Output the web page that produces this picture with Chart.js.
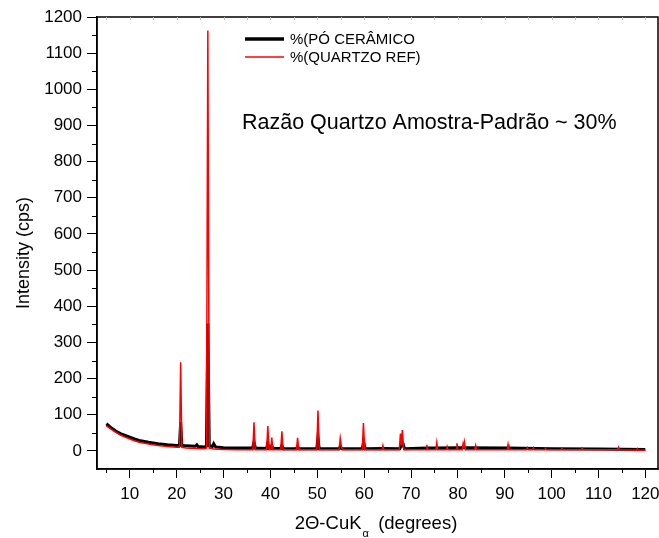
<!DOCTYPE html>
<html>
<head>
<meta charset="utf-8">
<script src="https://cdn.jsdelivr.net/npm/chart.js@4/dist/chart.umd.min.js"></script>
<style>
  html, body { margin: 0; padding: 0; background: #fff; }
</style>
</head>
<body>
<canvas id="xrdChart" width="659" height="538"></canvas>
<script>
const ceramicX = [5, 5.5, 6, 7, 8, 9, 10, 11, 12, 14, 16, 18, 20,
  20.6, 20.85, 21.1, 22, 24, 24.3, 24.6, 26, 26.35, 26.65, 26.95, 27.6, 27.9, 28.3,
  30, 33, 36.2, 36.5, 36.8, 39.2, 39.45, 39.7, 40.1, 40.3, 40.5,
  42.2, 42.45, 42.7, 45.55, 45.8, 46.05, 49.9, 50.15, 50.4,
  54.6, 54.9, 55.2, 59.6, 59.9, 60.2, 64, 67.6, 67.8, 68.1, 68.3, 68.6,
  73.5, 75.6, 79.9, 81.4, 90.7, 100, 110, 120];
const ceramicY = [75, 70, 64, 55, 48, 43, 38, 33, 29, 24, 20, 17, 15,
  16, 80, 16, 14, 13, 17, 12, 11, 14, 352, 14, 12, 20, 11,
  9, 8, 8, 25, 8, 7, 22, 7, 7, 15, 7,
  7, 15, 6, 6, 12, 6, 6, 38, 6,
  6, 12, 6, 6, 25, 6, 7, 6, 12, 22, 20, 6,
  8, 8, 9, 9, 8, 6, 5, 4];

const quartzX = [5, 6, 7, 8, 9, 10, 11, 12, 14, 16, 18, 20,
  20.6, 20.85, 21.1, 22, 24, 26, 26.35, 26.65, 26.95, 28, 30, 33,
  36.25, 36.5, 36.75, 39.2, 39.45, 39.7, 40.1, 40.3, 40.5,
  42.2, 42.45, 42.7, 45.55, 45.8, 46.05, 49.9, 50.15, 50.4,
  54.65, 54.9, 55.15, 55.4, 59.6, 59.85, 60.1, 63.8, 64.0, 64.2,
  67.5, 67.75, 67.95, 68.15, 68.4, 68.6,
  73.2, 73.4, 73.6, 75.3, 75.5, 75.7, 77.5, 77.7, 77.9, 79.6, 79.8, 80,
  80.9, 81.1, 81.25, 81.4, 81.6, 83.6, 83.8, 84, 90.5, 90.7, 90.9,
  94.6, 94.8, 95, 95.9, 96.1, 96.3, 98.5, 98.7, 98.9, 102, 102.2, 102.4,
  106.3, 106.5, 106.7, 114.1, 114.3, 114.5, 118.1, 118.3, 118.5, 120];
const quartzY = [69, 60, 51, 44, 38, 33, 28, 24, 19, 15, 12, 10,
  10, 245, 10, 8, 7, 6, 8, 1163, 8, 5, 4, 3,
  3, 79, 3, 3, 69, 3, 3, 37, 3,
  3, 54, 3, 3, 36, 3, 3, 112, 3,
  3, 35, 12, 3, 3, 77, 3, 3, 15, 3,
  3, 48, 15, 58, 10, 3,
  3, 17, 3, 3, 23, 3, 3, 12, 3, 3, 21, 3,
  3, 19, 8, 23, 3, 3, 15, 3, 3, 18, 3,
  3, 9, 3, 3, 9, 3, 3, 7, 3, 3, 7, 3,
  3, 8, 3, 3, 10, 3, 2, 6, 2, 2];

const xTicks = [10, 20, 30, 40, 50, 60, 70, 80, 90, 100, 110, 120];
const xMinorTicks = [5, 15, 25, 35, 45, 55, 65, 75, 85, 95, 105, 115];
const yTicks = [0, 100, 200, 300, 400, 500, 600, 700, 800, 900, 1000, 1100, 1200];
const yMinorTicks = [50, 150, 250, 350, 450, 550, 650, 750, 850, 950, 1050, 1150];

const seriesLabels = ['%(PÓ CERÂMICO', '%(QUARTZO REF)'];
const noteText = 'Razão Quartzo Amostra-Padrão ~ 30%';

const FONT = '"Liberation Sans", Arial, sans-serif';

function toPoints(xs, ys) {
  return xs.map((x, i) => ({ x: x, y: ys[i] }));
}

// moldura, ticks menores, legenda, anotação e títulos dos eixos
const decorPlugin = {
  id: 'decor',
  afterDraw(chart) {
    const ctx = chart.ctx;
    const a = chart.chartArea;
    const xs = chart.scales.x, ys = chart.scales.y;
    ctx.save();
    ctx.strokeStyle = '#000';
    ctx.lineWidth = 1.5;
    ctx.strokeRect(a.left, a.top, a.right - a.left, a.bottom - a.top);

    ctx.lineWidth = 1;
    ctx.beginPath();
    xMinorTicks.forEach(v => {
      const px = Math.round(xs.getPixelForValue(v)) + 0.5;
      ctx.moveTo(px, a.bottom); ctx.lineTo(px, a.bottom + 4);
    });
    yMinorTicks.forEach(v => {
      const py = Math.round(ys.getPixelForValue(v)) + 0.5;
      ctx.moveTo(a.left, py); ctx.lineTo(a.left - 5, py);
    });
    ctx.stroke();

    // ticks internos do eixo superior
    ctx.strokeStyle = '#bbb';
    ctx.beginPath();
    xTicks.concat(xMinorTicks).forEach(v => {
      const px = Math.round(xs.getPixelForValue(v)) + 0.5;
      ctx.moveTo(px, a.top); ctx.lineTo(px, a.top + 3);
    });
    ctx.stroke();

    // legenda
    const legendY = [39, 57];
    chart.data.datasets.forEach(d => {
      const li = d.label === seriesLabels[0] ? 0 : 1;
      ctx.strokeStyle = d.borderColor;
      ctx.lineWidth = li === 0 ? 3.5 : 1.5;
      ctx.beginPath();
      ctx.moveTo(245, legendY[li]); ctx.lineTo(284, legendY[li]);
      ctx.stroke();
      ctx.fillStyle = '#000';
      ctx.font = '15px ' + FONT;
      ctx.textBaseline = 'middle';
      ctx.textAlign = 'left';
      ctx.fillText(d.label, 290, legendY[li] + 1);
    });

    // anotação
    ctx.textBaseline = 'alphabetic';
    ctx.font = '21.5px ' + FONT;
    ctx.fillText(noteText, 242, 129);

    // título y
    ctx.save();
    ctx.translate(24, 253);
    ctx.rotate(-Math.PI / 2);
    ctx.textAlign = 'center';
    ctx.textBaseline = 'middle';
    ctx.font = '18px ' + FONT;
    ctx.fillText('Intensity (cps)', 0, 0);
    ctx.restore();

    // título x com subscrito
    ctx.textAlign = 'left';
    ctx.textBaseline = 'alphabetic';
    ctx.font = '18.5px ' + FONT;
    const part1 = '2Θ-CuK';
    const part2 = '  (degrees)';
    const w1 = ctx.measureText(part1).width;
    ctx.font = '11px ' + FONT;
    const wa = ctx.measureText('α').width;
    ctx.font = '18.5px ' + FONT;
    const w2 = ctx.measureText(part2).width;
    const start = 376 - (w1 + wa + w2) / 2;
    ctx.fillText(part1, start, 529);
    ctx.font = '11px ' + FONT;
    ctx.fillText('α', start + w1 + 1, 537);
    ctx.font = '18.5px ' + FONT;
    ctx.fillText(part2, start + w1 + wa, 529);
    ctx.restore();
  }
};

new Chart(document.getElementById('xrdChart').getContext('2d'), {
  type: 'line',
  data: {
    datasets: [{
      label: seriesLabels[0],
      data: toPoints(ceramicX, ceramicY),
      borderColor: '#000',
      borderWidth: 3,
      pointRadius: 0,
      tension: 0,
      order: 1
    }, {
      label: seriesLabels[1],
      data: toPoints(quartzX, quartzY),
      borderColor: '#ff0000',
      borderWidth: 1.5,
      pointRadius: 0,
      tension: 0,
      order: 0
    }]
  },
  options: {
    responsive: false,
    animation: false,
    devicePixelRatio: 1,
    layout: { padding: { top: 17, right: 1, left: 0, bottom: 0 } },
    plugins: {
      legend: { display: false },
      tooltip: { enabled: false }
    },
    scales: {
      x: {
        type: 'linear',
        min: 3,
        max: 122.7,
        afterBuildTicks: s => { s.ticks = xTicks.map(v => ({ value: v })); },
        afterFit: s => { s.height = 69; s.paddingLeft = 0; s.paddingRight = 0; },
        ticks: { color: '#000', font: { family: FONT, size: 17 }, padding: 6, maxRotation: 0,
          callback: v => String(v) },
        grid: { drawOnChartArea: false, tickLength: 9, tickColor: '#000', tickWidth: 1 },
        border: { color: '#000', width: 1.5 }
      },
      y: {
        min: -50,
        max: 1200,
        afterBuildTicks: s => { s.ticks = yTicks.map(v => ({ value: v })); },
        afterFit: s => { s.width = 97; s.paddingTop = 0; s.paddingBottom = 0; },
        ticks: { color: '#000', font: { family: FONT, size: 17 }, padding: 5,
          callback: v => String(v) },
        grid: { drawOnChartArea: false, tickLength: 10, tickColor: '#000', tickWidth: 1 },
        border: { color: '#000', width: 1.5 }
      }
    }
  },
  plugins: [decorPlugin]
});
</script>
</body>
</html>
